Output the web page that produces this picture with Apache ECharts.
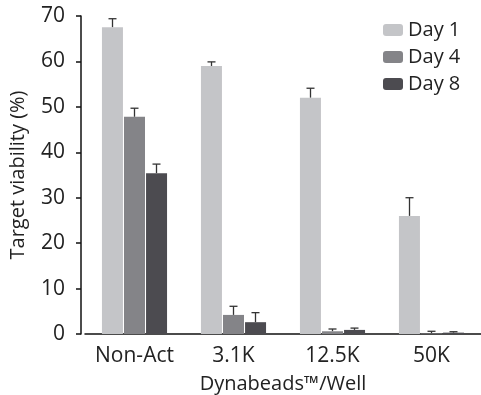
<!DOCTYPE html>
<html>
<head>
<meta charset="UTF-8">
<script src="https://cdn.jsdelivr.net/npm/echarts@6/dist/echarts.min.js"></script>
<style>html,body{margin:0;padding:0;background:#fff}#main{width:481px;height:395px}</style>
</head>
<body>
<div id="main"></div>
<script>
var categories = ['Non-Act', '3.1K', '12.5K', '50K'];
var seriesNames = ['Day 1', 'Day 4', 'Day 8'];
var day1 = [67.5, 59.0, 52.0, 26.0];
var day4 = [47.8, 4.2, 0.6, 0.1];
var day8 = [35.4, 2.6, 0.9, 0.3];
// upper end of the error bars
var day1Err = [69.4, 59.9, 54.1, 30.0];
var day4Err = [49.7, 6.1, 1.1, 0.6];
var day8Err = [37.4, 4.7, 1.3, 0.5];
var yTicks = [0, 10, 20, 30, 40, 50, 60, 70];

var colors = ['#c4c5c8', '#848488', '#4c4b50'];
var barW = 21, gapW = 1;
var values = [day1, day4, day8];
var errs = [day1Err, day4Err, day8Err];
var font = 'Open Sans';

var chart = echarts.init(document.getElementById('main'));

var series = [];
values.forEach(function (v, i) {
  series.push({
    name: seriesNames[i],
    type: 'bar',
    data: v,
    barWidth: barW,
    barGap: '5%',
    itemStyle: { color: colors[i] },
    z: 2
  });
});
// 误差线
values.forEach(function (v, i) {
  var d = v.map(function (val, k) { return [k, val, errs[i][k]]; });
  series.push({
    type: 'custom',
    data: d,
    z: 1,
    renderItem: function (params, api) {
      var base = api.coord([api.value(0), api.value(1)]);
      var top = api.coord([api.value(0), api.value(2)]);
      var x = base[0] + (i - 1) * (barW + gapW);
      return {
        type: 'group',
        children: [
          { type: 'line', shape: { x1: x, y1: base[1], x2: x, y2: top[1] }, style: { stroke: '#333', lineWidth: 1.3 } },
          { type: 'line', shape: { x1: x - 4, y1: top[1], x2: x + 4, y2: top[1] }, style: { stroke: '#333', lineWidth: 1.3 } }
        ]
      };
    }
  });
});

var option = {
  animation: false,
  textStyle: { fontFamily: font },
  grid: { left: 85, right: 0, top: 16, bottom: 61, outerBoundsMode: 'none', containLabel: false },
  legend: {
    data: seriesNames,
    orient: 'vertical',
    left: 378,
    top: 15,
    itemWidth: 20,
    itemHeight: 12,
    itemGap: 7,
    textStyle: { fontSize: 20, color: '#222', fontFamily: font }
  },
  xAxis: {
    type: 'category',
    data: categories,
    name: 'Dynabeads\u2122/Well',
    nameLocation: 'middle',
    nameGap: 40,
    nameTextStyle: { fontSize: 20, color: '#222' },
    axisLine: { lineStyle: { color: '#111', width: 1.5 } },
    axisTick: { alignWithLabel: true, length: 5, lineStyle: { color: '#111', width: 1.5 } },
    axisLabel: { interval: 0, fontSize: 21, color: '#222', margin: 12 }
  },
  yAxis: {
    type: 'value',
    min: yTicks[0],
    max: yTicks[yTicks.length - 1],
    interval: 10,
    offset: 4,
    name: 'Target viability (%)',
    nameLocation: 'middle',
    nameGap: 53,
    nameTextStyle: { fontSize: 20, color: '#222' },
    axisLine: { show: true, lineStyle: { color: '#111', width: 1.5 } },
    axisTick: { show: true, length: 5, lineStyle: { color: '#111', width: 1.5 } },
    axisLabel: { fontSize: 21, color: '#222', margin: 16 },
    splitLine: { show: false }
  },
  series: series
};
chart.setOption(option);
</script>
</body>
</html>
